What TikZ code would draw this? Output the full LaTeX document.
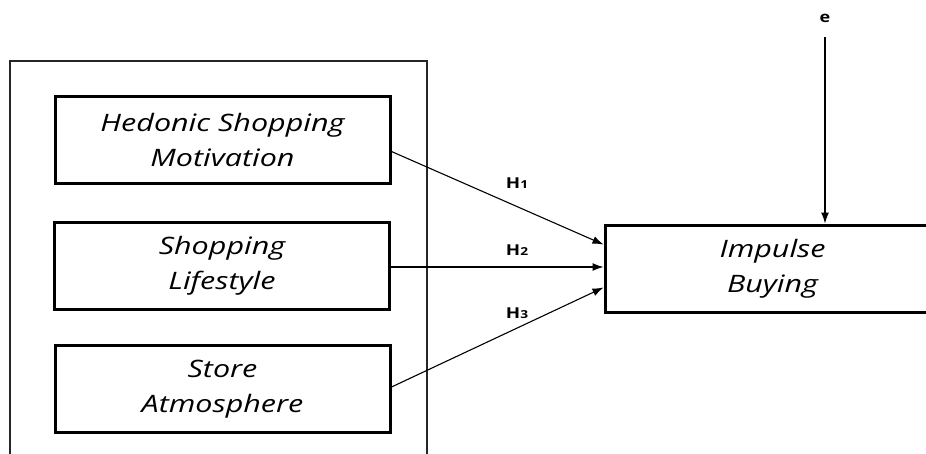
\documentclass[tikz,border=0pt]{standalone}
\usepackage{fontspec}
\usepackage{graphicx}
\setmainfont{Open Sans}
\usetikzlibrary{arrows.meta}
\newcommand{\wideline}[1]{\scalebox{1.27}[1]{#1}}
\begin{document}
\begin{tikzpicture}[x=1pt,y=-1pt,
  varbox/.style={draw=black, line width=3pt, minimum width=335pt, minimum height=87pt,
    align=center, inner sep=0pt, font=\fontsize{24}{35}\selectfont\itshape},
  path/.style={line width=1.1pt, -{Latex[length=11pt,width=8pt]}},
  hlab/.style={font=\fontsize{15}{15}\selectfont\bfseries}]
\useasboundingbox (0,0) rectangle (926,453);
\draw[line width=1.4pt, draw=black!85] (10,475) -- (10,61) -- (427,61) -- (427,475);
\node[varbox] (b1) at (222.5,139.5) {\wideline{Hedonic Shopping}\\\wideline{Motivation}};
\node[varbox] (b2) at (222,266) {\wideline{Shopping}\\\wideline{Lifestyle}};
\node[varbox] (b3) at (222.5,389) {\wideline{Store}\\\wideline{Atmosphere}};
\node[varbox] (ib) at (772.5,268.5) {\wideline{Impulse}\\\wideline{Buying}};
\node[hlab] (e) at (825,18) {\scalebox{1.2}[1]{e}};
\coordinate (es) at (825,37);
\draw[path] (es) -- (es |- ib.north);
\draw[path] ([yshift=-12pt]b1.east) -- ([yshift=24pt]ib.west);
\draw[path] ([yshift=-1pt]b2.east) -- ([yshift=1.5pt]ib.west);
\draw[path] ([yshift=2pt]b3.east) -- ([yshift=-19pt]ib.west);
\node[hlab] (h1) at (517,183) {\scalebox{1.25}[1]{H{\fontsize{11}{11}\selectfont 1}}};
\node[hlab] (h2) at (517,250) {\scalebox{1.25}[1]{H{\fontsize{11}{11}\selectfont 2}}};
\node[hlab] (h3) at (517,313) {\scalebox{1.25}[1]{H{\fontsize{11}{11}\selectfont 3}}};
\end{tikzpicture}
\end{document}
